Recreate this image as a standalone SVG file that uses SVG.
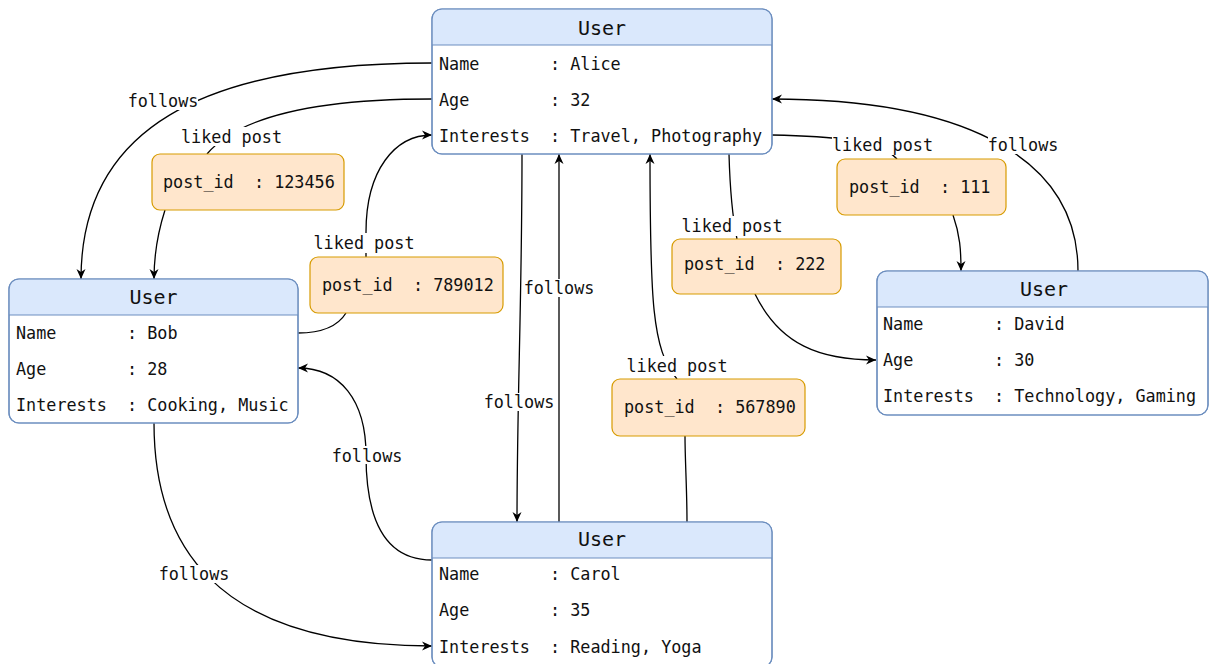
<svg xmlns="http://www.w3.org/2000/svg" width="1209" height="664" viewBox="0 0 1209 664">
<defs>
<marker id="arr" markerWidth="12" markerHeight="10" refX="10" refY="5" orient="auto" markerUnits="userSpaceOnUse">
<path d="M0,0.5 L10,5 L0,9.5 L3,5 Z" fill="#000"/>
</marker>
<style>
text{font-family:"DejaVu Sans Mono","Liberation Mono",monospace;font-size:16.8px;fill:#111;dominant-baseline:central}
.title{font-size:20px;text-anchor:middle}
.body{fill:#fff;stroke:#6c8ebf;stroke-width:1.2}
.head{fill:#dae8fc;stroke:none}
.hl{stroke:#6c8ebf;stroke-width:1.2}
.post{fill:#ffe6cc;stroke:#d79b00;stroke-width:1.2}
.edge{fill:none;stroke:#000;stroke-width:1.3}
.arr{marker-end:url(#arr)}
.lbg{fill:#fff}
.lbl{text-anchor:middle}
</style>
</defs>
<rect width="1209" height="664" fill="#fff"/>

<g id="connectors">
<!-- Alice -> Bob follows -->
<path class="edge arr" d="M432,63 C200,63 81,130 81,279"/>
<!-- Alice -> post 123456 -->
<path class="edge" d="M432,99 C320,99 240,115 207,154"/>
<!-- post 123456 -> Bob -->
<path class="edge arr" d="M165,210 C157,235 154,255 154,279"/>
<!-- Bob -> post 789012 -->
<path class="edge" d="M298,333 C322,333 338,326 346,313"/>
<!-- post 789012 -> Alice -->
<path class="edge arr" d="M366,257 L366,232 C366,170 395,135 432,135"/>
<!-- Alice -> Carol follows -->
<path class="edge arr" d="M522,154 C522,300 517,400 517,522"/>
<!-- Carol -> Alice follows -->
<path class="edge arr" d="M559,522 L559,154"/>
<!-- Carol -> post 567890 -->
<path class="edge" d="M687,522 C687,490 685,460 685,436"/>
<!-- post 567890 -> Alice -->
<path class="edge arr" d="M677,379 C652,350 650,300 650,154"/>
<!-- Alice -> post 222 -->
<path class="edge" d="M729,154 C730,190 732,215 737,239"/>
<!-- post 222 -> David -->
<path class="edge arr" d="M755,294 C780,345 820,360 876,360"/>
<!-- Alice -> post 111 -->
<path class="edge" d="M772,135 C830,136 880,140 897,159"/>
<!-- post 111 -> David -->
<path class="edge arr" d="M953,215 C960,235 961,250 961,271"/>
<!-- David -> Alice follows -->
<path class="edge arr" d="M1078,271 C1078,150 950,99 772,99"/>
<!-- Bob -> Carol follows -->
<path class="edge arr" d="M154,423 C154,540 210,646 432,646"/>
<!-- Carol -> Bob follows -->
<path class="edge arr" d="M432,560 C385,560 366,520 366,455 C366,400 340,368 298,368"/>

<!-- labels -->
<rect class="lbg" x="128" y="92" width="70" height="18"/>
<text class="lbl" x="163" y="101">follows</text>
<rect class="lbg" x="181" y="127" width="101" height="19"/>
<text class="lbl" x="231.5" y="136.5">liked post</text>
<rect class="lbg" x="314" y="233" width="101" height="20"/>
<text class="lbl" x="364" y="242.5">liked post</text>
<rect class="lbg" x="484" y="393" width="70" height="18"/>
<text class="lbl" x="519" y="402">follows</text>
<rect class="lbg" x="524" y="279" width="70" height="18"/>
<text class="lbl" x="559" y="288">follows</text>
<rect class="lbg" x="627" y="356" width="100" height="20"/>
<text class="lbl" x="677" y="365.5">liked post</text>
<rect class="lbg" x="682" y="216" width="101" height="20"/>
<text class="lbl" x="732" y="225.5">liked post</text>
<rect class="lbg" x="832" y="135" width="101" height="20"/>
<text class="lbl" x="882.5" y="144.5">liked post</text>
<rect class="lbg" x="988" y="136" width="70" height="18"/>
<text class="lbl" x="1023" y="145">follows</text>
<rect class="lbg" x="159" y="565" width="70" height="18"/>
<text class="lbl" x="194" y="574">follows</text>
<rect class="lbg" x="332" y="446" width="70" height="18"/>
<text class="lbl" x="367" y="455.5">follows</text>
</g>

<g id="alice">
<rect class="body" x="432" y="9" width="340" height="145" rx="10"/>
<path class="head" d="M432.6,45 V19 Q432.6,9.6 442,9.6 H762 Q771.4,9.6 771.4,19 V45 Z"/>
<rect x="432" y="9" width="340" height="145" rx="10" fill="none" stroke="#6c8ebf" stroke-width="1.2"/>
<line class="hl" x1="432" y1="45" x2="772" y2="45"/>
<text class="title" x="602" y="27.5">User</text>
<text x="439" y="63.5">Name</text><text x="550" y="63.5">: Alice</text>
<text x="439" y="99.5">Age</text><text x="550" y="99.5">: 32</text>
<text x="439" y="135.5">Interests</text><text x="550" y="135.5">: Travel, Photography</text>
</g>

<g id="bob">
<rect class="body" x="9" y="279" width="289" height="144" rx="10"/>
<path class="head" d="M9.6,315 V289 Q9.6,279.6 19,279.6 H288 Q297.4,279.6 297.4,289 V315 Z"/>
<rect x="9" y="279" width="289" height="144" rx="10" fill="none" stroke="#6c8ebf" stroke-width="1.2"/>
<line class="hl" x1="9" y1="315" x2="298" y2="315"/>
<text class="title" x="153.5" y="296.5">User</text>
<text x="16" y="332.5">Name</text><text x="127" y="332.5">: Bob</text>
<text x="16" y="368.5">Age</text><text x="127" y="368.5">: 28</text>
<text x="16" y="404.5">Interests</text><text x="127" y="404.5">: Cooking, Music</text>
</g>

<g id="david">
<rect class="body" x="877" y="271" width="331" height="144" rx="10"/>
<path class="head" d="M877.6,307 V281 Q877.6,271.6 887,271.6 H1198 Q1207.4,271.6 1207.4,281 V307 Z"/>
<rect x="877" y="271" width="331" height="144" rx="10" fill="none" stroke="#6c8ebf" stroke-width="1.2"/>
<line class="hl" x1="877" y1="307" x2="1208" y2="307"/>
<text class="title" x="1044" y="289">User</text>
<text x="883" y="323.5">Name</text><text x="994" y="323.5">: David</text>
<text x="883" y="359.5">Age</text><text x="994" y="359.5">: 30</text>
<text x="883" y="396">Interests</text><text x="994" y="396">: Technology, Gaming</text>
</g>

<g id="carol">
<rect class="body" x="432" y="522" width="340" height="145" rx="10"/>
<path class="head" d="M432.6,558 V532 Q432.6,522.6 442,522.6 H762 Q771.4,522.6 771.4,532 V558 Z"/>
<rect x="432" y="522" width="340" height="145" rx="10" fill="none" stroke="#6c8ebf" stroke-width="1.2"/>
<line class="hl" x1="432" y1="558" x2="772" y2="558"/>
<text class="title" x="602" y="539">User</text>
<text x="439" y="574">Name</text><text x="550" y="574">: Carol</text>
<text x="439" y="610">Age</text><text x="550" y="610">: 35</text>
<text x="439" y="646.5">Interests</text><text x="550" y="646.5">: Reading, Yoga</text>
</g>

<g id="post123456">
<rect class="post" x="152" y="154" width="192" height="56" rx="8"/>
<text x="163" y="182" xml:space="preserve">post_id  : 123456</text>
</g>
<g id="post789012">
<rect class="post" x="310" y="257" width="193" height="56" rx="8"/>
<text x="322" y="285" xml:space="preserve">post_id  : 789012</text>
</g>
<g id="post111">
<rect class="post" x="837" y="159" width="169" height="56" rx="8"/>
<text x="849" y="187" xml:space="preserve">post_id  : 111</text>
</g>
<g id="post222">
<rect class="post" x="672" y="239" width="169" height="55" rx="8"/>
<text x="684" y="264" xml:space="preserve">post_id  : 222</text>
</g>
<g id="post567890">
<rect class="post" x="612" y="379" width="193" height="57" rx="8"/>
<text x="624" y="407" xml:space="preserve">post_id  : 567890</text>
</g>
</svg>
